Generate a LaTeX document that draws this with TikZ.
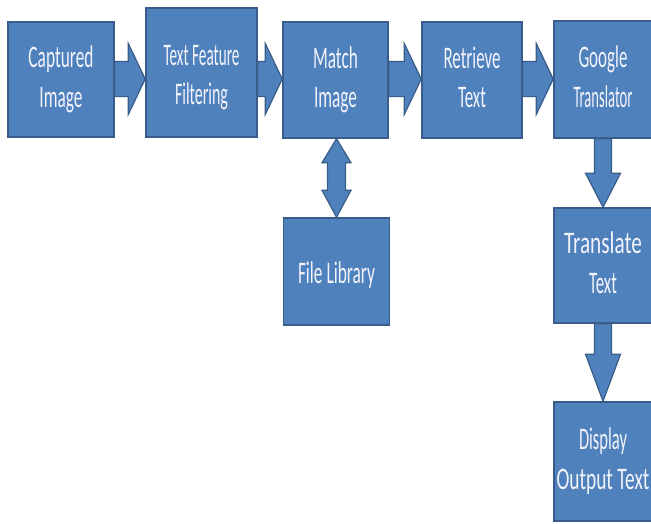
\documentclass[tikz,border=0pt]{standalone}
\usepackage{fontspec}
\setmainfont{Carlito}
\usetikzlibrary{calc}
\definecolor{boxfill}{HTML}{4F81BD}
\definecolor{boxline}{HTML}{385D8A}
\definecolor{txtcol}{HTML}{F3F3FC}
\newcommand{\fw}[2]{\resizebox{#1bp}{\height}{#2}}
\newcommand{\twol}[4]{\begin{tabular}{@{}c@{}}\fw{#1}{#2}\\\fw{#3}{#4}\end{tabular}}
\newcommand{\harrow}[2]{%
  \draw[barrow] ($(#1.east|-row)+(0,-17.5)$) -- ($(#2.west|-row)+(-17,-17.5)$)
   -- ($(#2.west|-row)+(-17,-35.5)$) -- (#2.west|-row)
   -- ($(#2.west|-row)+(-17,35.5)$) -- ($(#2.west|-row)+(-17,17.5)$)
   -- ($(#1.east|-row)+(0,17.5)$) -- cycle;}
\newcommand{\varrow}[3]{%
  \draw[barrow] ($(#1.south-|#2.north)+(-8.5,0)$) -- ($(#2.north)+(-8.5,-#3)$)
   -- ($(#2.north)+(-17.5,-#3)$) -- (#2.north)
   -- ($(#2.north)+(17.5,-#3)$) -- ($(#2.north)+(8.5,-#3)$)
   -- ($(#1.south-|#2.north)+(8.5,0)$) -- cycle;}
\begin{document}
\begin{tikzpicture}[x=1bp,y=-1bp,
  blk/.style={draw=boxline, fill=boxfill, line width=1.5bp, rectangle, inner sep=0pt,
    text=txtcol, font=\fontsize{31.5}{40}\selectfont},
  barrow/.style={draw=boxline, fill=boxfill, line width=1.2bp, line join=miter}]
\useasboundingbox (0,0) rectangle (651,524);
\coordinate (row) at (0,79);
\node[blk, minimum width=106bp, minimum height=115bp] (cap) at (61,79.5) {\twol{65}{Captured}{43}{Image}};
\node[blk, minimum width=111bp, minimum height=129bp] (tff) at (201.5,72.5) {\raisebox{-4.5bp}[\height][\depth]{\twol{76}{Text Feature}{53}{Filtering}}};
\node[blk, minimum width=105bp, minimum height=116bp] (match) at (335.5,80) {\twol{45}{Match}{43}{Image}};
\node[blk, minimum width=100bp, minimum height=116bp] (ret) at (472,80) {\twol{57}{Retrieve}{28}{Text}};
\node[blk, minimum width=98bp, minimum height=117bp] (goog) at (603,79.5) {\twol{49}{Google}{59}{Translator}};
\node[blk, minimum width=106bp, minimum height=107bp] (lib) at (336.5,271.5) {\raisebox{-4bp}[\height][\depth]{\fw{77}{File Library}}};
\node[blk, minimum width=98bp, minimum height=115bp] (trans) at (603,265.5) {\twol{78}{Translate}{28}{Text}};
\node[blk, minimum width=98bp, minimum height=119bp] (disp) at (603,461.5) {\twol{48}{Display}{93}{Output Text}};
\harrow{cap}{tff}
\harrow{tff}{match}
\harrow{match}{ret}
\harrow{ret}{goog}
\varrow{goog}{trans}{34}
\varrow{trans}{disp}{47}
\draw[barrow] (match.south-|lib.north) -- ($(match.south-|lib.north)+(14.5,24)$)
  -- ($(match.south-|lib.north)+(9,24)$) -- ($(lib.north)+(9,-27)$)
  -- ($(lib.north)+(14.5,-27)$) -- (lib.north) -- ($(lib.north)+(-14.5,-27)$)
  -- ($(lib.north)+(-9,-27)$) -- ($(match.south-|lib.north)+(-9,24)$)
  -- ($(match.south-|lib.north)+(-14.5,24)$) -- cycle;
\end{tikzpicture}
\end{document}
